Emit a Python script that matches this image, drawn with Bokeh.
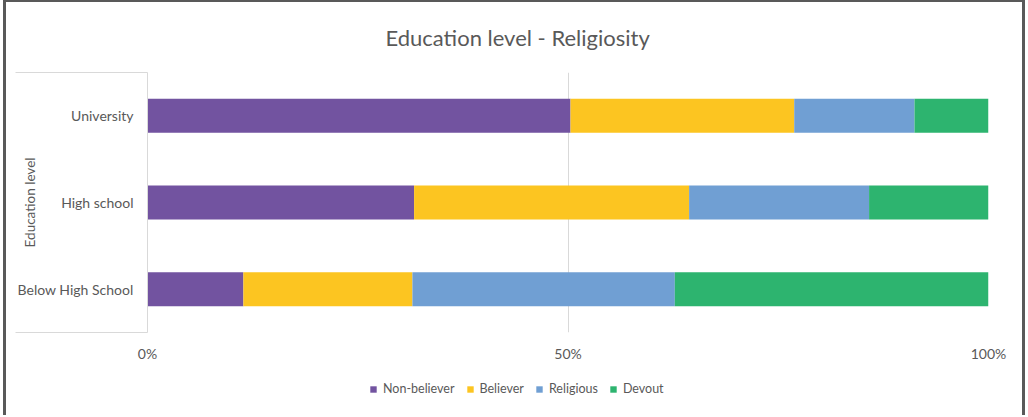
from bokeh.plotting import figure
from bokeh.layouts import column
from bokeh.models import (ColumnDataSource, Range1d, LinearAxis, FixedTicker, Legend, LegendItem,
                          NumeralTickFormatter)
from bokeh.embed import file_html
from bokeh.resources import INLINE

# ---- data ----
categories = ["Below High School", "High school", "University"]
series = ["Non-believer", "Believer", "Religious", "Devout"]
non_believer = [11.4, 31.7, 50.3]
believer = [20.1, 32.7, 26.6]
religious = [31.2, 21.4, 14.3]
devout = [37.3, 14.2, 8.8]
colors = ["#7253A0", "#FCC521", "#709FD3", "#2DB46F"]
x_ticks = [0, 0.5, 1.0]

FONT = "Lato"
TXT = "#595959"
EDGE = "3px solid #595959"

ypos = [2 * i + 1 for i in range(len(categories))]
vals = [non_believer, believer, religious, devout]
data = {"y": ypos}
for name, v in zip(series, vals):
    data[name] = [x / 100.0 for x in v]
src = ColumnDataSource(data)

p = figure(width=1022, height=370, output_backend="svg", toolbar_location=None,
           x_range=Range1d(0, 1), y_range=Range1d(0, 2 * len(categories)),
           y_axis_location=None, min_border_left=141, min_border_right=40,
           min_border_top=70, min_border_bottom=40, outline_line_color=None,
           background_fill_color="white", border_fill_color="white")
p.styles = {"border-left": EDGE, "border-right": EDGE, "border-top": "2px solid #595959",
            "margin-left": "3px"}

renderers = p.hbar_stack(series, y="y", height=0.785, source=src, color=colors, line_color=None)

# y axis: category labels, minor ticks used as the light box lines at the outer boundaries
yax = LinearAxis(ticker=FixedTicker(ticks=ypos, minor_ticks=[0, 2 * len(categories)]),
                 major_label_overrides={yy: c for yy, c in zip(ypos, categories)},
                 axis_label="Education level")
yax.major_tick_out = 0
yax.major_tick_in = 0
yax.minor_tick_out = 132
yax.minor_tick_in = 0
yax.minor_tick_line_color = "#D9D9D9"
yax.axis_line_color = "#D9D9D9"
yax.major_label_standoff = -118
yax.major_label_text_font = FONT
yax.major_label_text_font_size = "14px"
yax.major_label_text_color = TXT
yax.axis_label_text_font = FONT
yax.axis_label_text_font_size = "13.5px"
yax.axis_label_text_font_style = "normal"
yax.axis_label_text_color = TXT
yax.axis_label_standoff = -23
p.add_layout(yax, "left")

xa = p.xaxis[0]
xa.ticker = FixedTicker(ticks=x_ticks)
xa.formatter = NumeralTickFormatter(format="0%")
xa.axis_line_color = None
xa.major_tick_line_color = None
xa.minor_tick_line_color = None
xa.major_label_standoff = 6
xa.major_label_text_font = FONT
xa.major_label_text_font_size = "14px"
xa.major_label_text_color = TXT

p.xgrid.ticker = FixedTicker(ticks=x_ticks)
p.xgrid.grid_line_color = "#D9D9D9"
p.ygrid.grid_line_color = None

p.title.text = "Education level - Religiosity"
p.title.align = "left"
p.title.offset = 238
p.title.standoff = 41
p.title.vertical_align = "middle"
p.title.text_font = FONT
p.title.text_font_size = "22px"
p.title.text_font_style = "normal"
p.title.text_color = TXT

# legend strip below the chart (swatch renderers sit outside the visible range)
p2 = figure(width=1022, height=45, output_backend="svg", toolbar_location=None,
            x_range=Range1d(0, 1), y_range=Range1d(0, 1), min_border=0,
            outline_line_color=None, background_fill_color="white", border_fill_color="white")
p2.styles = {"border-left": EDGE, "border-right": EDGE, "margin-left": "3px"}
p2.axis.visible = False
p2.grid.visible = False
swatches = [p2.hbar(y=[-5], left=[0], right=[0], height=0.5, color=c, line_color=None)
            for c in colors]
legend = Legend(items=[LegendItem(label=s, renderers=[r]) for s, r in zip(series, swatches)],
                orientation="horizontal", location=(222, 19),
                label_text_font=FONT, label_text_font_size="12.5px", label_text_color=TXT,
                glyph_width=8, glyph_height=8, label_standoff=6, spacing=11,
                border_line_color=None, background_fill_alpha=0, padding=0, margin=0)
p2.add_layout(legend)

layout = column(p, p2, spacing=0)
open("out.html", "w").write(file_html(layout, INLINE))
